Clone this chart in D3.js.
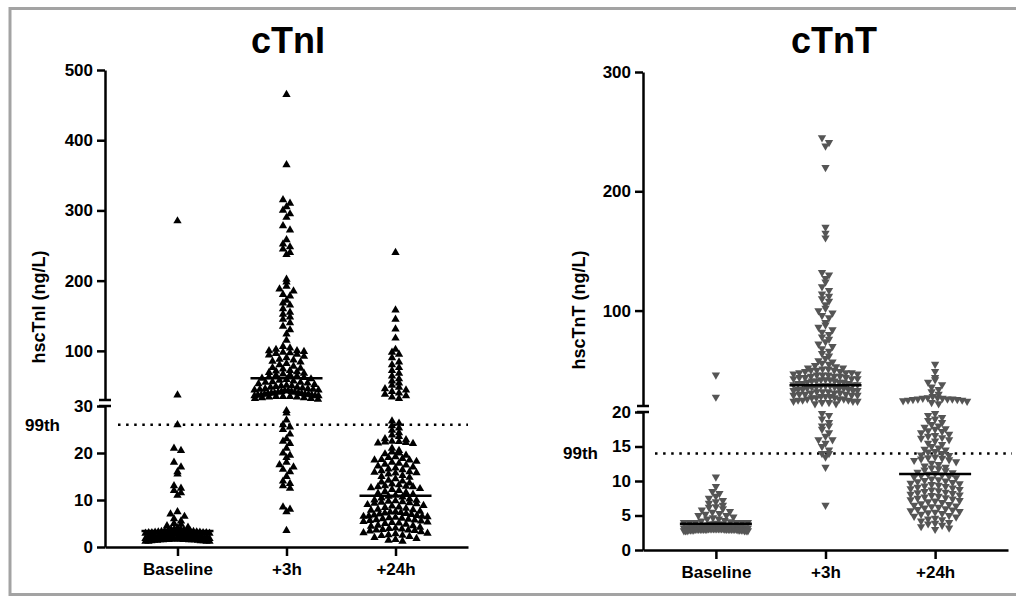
<!DOCTYPE html>
<html>
<head>
<meta charset="utf-8">
<script src="https://cdn.jsdelivr.net/npm/d3@7"></script>
<style>
  body { margin: 0; background: #fff; }
  text { font-family: "Liberation Sans", Arial, sans-serif; font-weight: bold; }
</style>
</head>
<body>
<div id="chart"></div>
<script>
// categories and values
var cats = ["Baseline", "+3h", "+24h"];

var ctniBase = [285, 37, 26, 21, 20.5, 18, 17, 16, 15.5, 13, 12.5, 12, 11.5, 11, 7.5, 7, 6.5, 6, 5.5, 5, 4.8, 4.5, 4.2, 4,
    3.8, 3.8, 3.7, 3.6, 3.5, 3.5, 3.4, 3.4, 3.3, 3.3, 3.2, 3.2, 3.1, 3.1, 3.0, 3.0, 3.0, 3.0, 2.9, 2.9, 2.8, 2.8, 2.8,
    2.7, 2.7, 2.7, 2.6, 2.6, 2.5, 2.5, 2.5, 2.5, 2.4, 2.4, 2.4, 2.3, 2.3, 2.3, 2.2, 2.2, 2.2, 2.1, 2.1, 2.1, 2.0, 2.0,
    2.0, 2.0, 2.0, 1.9, 1.9, 1.9, 1.9, 1.8, 1.8, 1.8, 1.8, 1.8, 1.7, 1.7, 1.7, 1.7, 1.6, 1.6, 1.6, 1.6, 1.5, 1.5, 1.5,
    1.5, 1.5, 1.4, 1.4, 1.4, 1.3, 1.3, 1.3, 1.2, 1.2, 1.2, 1.2];
var ctni3h = [465, 365, 315, 310, 305, 300, 295, 290, 278, 272, 258, 252, 248, 245, 240, 237, 202, 198, 192, 188, 185,
    180, 178, 172, 168, 165, 160, 155, 152, 148, 145, 140, 135, 130, 124, 115,
    106, 104, 102, 100, 100, 99, 98, 97, 96, 95, 94, 92, 90, 88, 87, 85, 84, 82, 80, 78, 76, 75, 74, 72, 71, 70, 69,
    68, 67, 66, 65, 64, 63, 62, 61, 60, 59, 58, 57, 56, 55, 55, 54, 53, 52, 51, 50, 50, 49, 48, 48, 47, 46, 46, 45,
    45, 44, 44, 43, 43, 42, 42, 41, 41, 40, 40, 40, 39, 39, 38, 38, 38, 37, 37, 37, 36, 36, 36, 35, 35, 35, 34, 34,
    33, 33, 32, 32, 31,
    29, 28.5, 27, 26, 25.5, 25, 24, 23, 22.5, 22, 21, 20, 19.5, 19, 18, 17.5, 17, 16.5, 16, 15, 14, 13.5, 13, 12.5,
    8.5, 8, 7.5, 3.5];
var ctni24h = [240, 158, 145, 131, 118, 102, 98, 95, 90, 84, 80, 76, 72, 68, 64, 60, 57, 54, 51, 48, 46, 44, 42,
    40, 38, 36, 34, 32,
    26.8, 26.3, 25.8, 25.3, 24.8, 24.3,
    23.8, 23.5, 23, 22.8, 22.5, 22.4, 22.3, 22.2, 22.1, 22,
    21, 20.5, 20.2, 20, 19.8, 19.5, 19.2, 19, 18.8, 18.6, 18.5, 18.5,
    18.2, 18, 17.8, 17.6, 17.4, 17.2, 17, 16.8, 16.6, 16.4, 16.2, 16, 15.9, 15.8, 15.7,
    15.5, 15.2, 15, 14.8, 14.5, 14.2, 14, 13.8, 13.6, 13.4, 13.2, 13, 12.9, 12.8, 12.8,
    12.6, 12.4, 12.2, 12, 11.8, 11.6, 11.4, 11.2, 11, 10.8, 10.6, 10.4, 10.2, 10, 9.9, 9.8, 9.7, 9.6, 9.5, 9.4,
    9.3, 9.2, 9, 8.8, 8.7, 8.5, 8.4, 8.2, 8, 7.9, 7.8, 7.6, 7.5, 7.4, 7.3, 7.2, 7.1, 7, 6.9, 6.8, 6.7, 6.6, 6.5, 6.5, 6.4,
    6.3, 6.2, 6.1, 6, 5.9, 5.8, 5.7, 5.6, 5.5, 5.4, 5.3, 5.2, 5.1, 5, 4.8, 4.6, 4.5, 4.4, 4.2, 4, 3.9, 3.8, 3.7, 3.6, 3.6,
    3.5, 3.4, 3.2, 3, 2.9, 2.8, 2.6, 2.5, 2.4, 2.2, 2, 1.8, 1.6, 1.4, 1.2];

var ctntBase = [46, 27.5, 10.6, 9.2, 8.5, 8.2, 7.8, 7.5, 7.2, 7, 6.8, 6.5, 6.3, 6.2, 6, 5.8, 5.6, 5.5, 5.3, 5.2, 5, 5,
    4.8, 4.7, 4.5, 4.5, 4.3, 4.2,
    4.1, 4.0, 4.0, 4.0, 4.0, 4.0, 4.0, 3.9, 3.8, 3.8, 3.8, 3.8, 3.8, 3.7, 3.6, 3.6, 3.6, 3.6, 3.6,
    3.5, 3.5, 3.5, 3.5, 3.5, 3.5, 3.5, 3.5, 3.4, 3.4, 3.4, 3.4, 3.4, 3.4, 3.3, 3.3, 3.3, 3.3, 3.3, 3.3, 3.3, 3.3,
    3.2, 3.2, 3.2, 3.2, 3.2, 3.2, 3.2, 3.2, 3.2, 3.2, 3.1, 3.1, 3.1, 3.1, 3.1, 3.1, 3.1, 3.1, 3.1, 3.1,
    3.0, 3.0, 3.0, 3.0, 3.0, 3.0, 3.0, 3.0, 3.0, 3.0, 3.0, 3.0, 3.0, 3.0, 3.0, 3.0,
    2.9, 2.9, 2.9, 2.9, 2.9, 2.9, 2.9, 2.9, 2.8, 2.8, 2.8, 2.8, 2.8, 2.8];
var ctnt3h = [245, 241, 238, 220, 170, 165, 161, 132, 130, 127, 124, 120, 117, 114, 112, 110, 108, 105, 102, 100, 98,
    96, 94, 90, 88, 86, 84, 82, 80, 78, 76, 74, 72, 70, 68, 66, 64, 62, 60, 58, 57, 56, 55, 54, 53,
    52, 52, 51, 51, 50, 50, 50, 49, 49, 48, 48, 48, 47, 47, 46, 46, 46, 45, 45, 45, 44, 44, 44, 43, 43, 43, 42, 42,
    42, 41, 41, 41, 40, 40, 40, 39, 39, 39, 38, 38, 38, 37, 37, 37, 36, 36, 36, 35, 35, 35, 34, 34, 34, 33, 33, 33,
    32, 32, 32, 31, 31, 31, 30, 30, 30, 29, 29, 29, 28, 28, 28, 27, 27, 27, 26, 26, 26, 25, 25, 25, 24, 24, 24, 23,
    23, 22, 22,
    19.8, 19.5, 19, 18.5, 18, 18, 17.5, 17, 16.5, 16, 16, 15.5, 15, 14.5, 14, 14, 13.5, 12, 6.5];
var ctnt24h = [55, 49, 44, 42, 40, 38, 36, 34, 32, 30, 28, 27, 27, 26.5, 26.5, 26, 26, 26, 25.5, 25.5, 25, 25, 24.5,
    24, 23, 22,
    19.8, 19.5, 19.2, 19, 18.8, 18.5, 18.2, 18, 17.8, 17.6, 17.5, 17.3, 17.2, 17, 16.8, 16.6, 16.5, 16.3, 16.2, 16,
    15.8, 15.5, 15.3, 15, 14.8, 14.6, 14.5, 14.3, 14.2, 14, 13.8, 13.7, 13.5, 13.4, 13.3, 13.2, 13.1, 13,
    12.8, 12.6, 12.4, 12.2, 12, 11.9, 11.8, 11.6, 11.5, 11.3, 11.2, 11.1, 11, 10.9, 10.8, 10.7, 10.6, 10.5,
    10.3, 10.2, 10.1, 10, 9.9, 9.8, 9.7, 9.6, 9.5, 9.4, 9.3, 9.2, 9.1, 9, 8.9, 8.8, 8.7, 8.6, 8.5, 8.4, 8.3, 8.2,
    8.1, 8, 7.9, 7.8, 7.7, 7.6, 7.5, 7.4, 7.3, 7.2, 7.1, 7, 6.9,
    6.7, 6.6, 6.5, 6.4, 6.3, 6.2, 6.1, 6, 5.9, 5.8, 5.7, 5.6, 5.5, 5.4, 5.3, 5.2, 5, 4.9, 4.8, 4.6, 4.5, 4.4, 4.2,
    4, 3.9, 3.8, 3.6, 3.4, 3.2, 3];

var ctniMedians = [3.4, 61, 10.9];
var ctntMedians = [3.8, 37.5, 11];

var ctniTicksLow = [0, 10, 20, 30];
var ctniTicksHigh = [100, 200, 300, 400, 500];
var ctntTicksLow = [0, 5, 10, 15, 20];
var ctntTicksHigh = [100, 200, 300];

var ctniRef = 26;
var ctntRef = 14;

var width = 1016, height = 597;

var svg = d3.select("#chart")
    .append("svg")
    .attr("width", width)
    .attr("height", height);

// grey frame round the figure
svg.append("rect")
    .attr("x", 10)
    .attr("y", 8.5)
    .attr("width", 1020)
    .attr("height", 586)
    .attr("fill", "none")
    .attr("stroke", "#a3a3a3")
    .attr("stroke-width", 3);

/*
    Prism-like scatter layout: points that fall in the same pixel row
    are set side by side, squeezed when the row gets too wide
*/
function layoutRows(values, yf, binH, step, maxW) {
    var pts = values.map(v => ({v: v, py: yf(v)}));
    var rows = d3.group(pts, d => Math.floor(d.py / binH));
    rows.forEach(arr => {
        var n = arr.length;
        var s = n > 1 ? Math.min(step, maxW / (n - 1)) : 0;
        arr.sort((a, b) => b.v - a.v);
        var offs = d3.range(n).map(i => (i - (n - 1) / 2) * s)
            .sort((a, b) => Math.abs(a) - Math.abs(b));
        arr.forEach((d, i) => d.dx = offs[i]);
    });
    return pts;
}

function drawPanel(p) {
    var g = svg.append("g");

    var yLow = d3.scaleLinear().domain([0, p.brk]).range([p.yBottom, p.yLowTop]);
    var yHigh = d3.scaleLinear().domain([p.brk, p.max]).range([p.yHighBottom, p.yTop]);
    var y = v => v <= p.brk ? yLow(v) : yHigh(v);

    var x = d3.scalePoint().domain(cats).range([p.xLeft, p.xRight]).padding(0.665);

    // title
    g.append("text")
        .attr("x", p.titleX)
        .attr("y", 53)
        .attr("text-anchor", "middle")
        .attr("font-size", "36px")
        .text(p.title);

    // y label
    g.append("text")
        .attr("transform", "translate(" + p.labelX + "," + p.labelY + ") rotate(-90)")
        .attr("text-anchor", "middle")
        .attr("font-size", "18px")
        .text(p.ylabel);

    // dotted 99th percentile line
    g.append("line")
        .attr("x1", p.refX1)
        .attr("x2", p.refX2)
        .attr("y1", y(p.ref))
        .attr("y2", y(p.ref))
        .attr("stroke", "#000")
        .attr("stroke-width", 2.5)
        .attr("stroke-dasharray", "2.5,5.6");

    g.append("text")
        .attr("x", p.xLeft - 45)
        .attr("y", y(p.ref) + 6)
        .attr("text-anchor", "end")
        .attr("font-size", "17px")
        .text("99th");

    // points
    var sym = d3.symbol().type(d3.symbolTriangle).size(30)();
    p.series.forEach((vals, i) => {
        var pts = layoutRows(vals, y, 5.5, 7, 64);
        g.append("g").selectAll("path")
            .data(pts)
            .enter()
            .append("path")
            .attr("d", sym)
            .attr("fill", p.color)
            .attr("transform", d => "translate(" + (x(cats[i]) + d.dx) + "," + d.py + ")" + (p.down ? " rotate(180)" : ""));
    });

    // medians
    g.selectAll(".median")
        .data(p.medians)
        .enter()
        .append("line")
        .attr("class", "median")
        .attr("x1", (d, i) => x(cats[i]) - 36)
        .attr("x2", (d, i) => x(cats[i]) + 36)
        .attr("y1", d => y(d))
        .attr("y2", d => y(d))
        .attr("stroke", "#000")
        .attr("stroke-width", 2.5);

    // axes
    function styleAxis(sel) {
        sel.selectAll("path, line").attr("stroke", "#000").attr("stroke-width", 2.5);
        sel.selectAll("text").attr("font-size", "17px").attr("fill", "#000")
            .attr("font-family", "'Liberation Sans', Arial, sans-serif").attr("font-weight", "bold");
    }

    g.append("g")
        .attr("transform", "translate(" + p.xLeft + ",0)")
        .call(d3.axisLeft(yLow).tickValues(p.ticksLow).tickSize(8).tickSizeOuter(0).tickPadding(4))
        .call(styleAxis);
    g.append("g")
        .attr("transform", "translate(" + p.xLeft + ",0)")
        .call(d3.axisLeft(yHigh).tickValues(p.ticksHigh).tickSize(8).tickSizeOuter(0).tickPadding(4))
        .call(styleAxis);

    // break marks
    [p.yHighBottom, p.yLowTop].forEach(yy => {
        g.append("line")
            .attr("x1", p.xLeft - 6)
            .attr("x2", p.xLeft + 6)
            .attr("y1", yy)
            .attr("y2", yy)
            .attr("stroke", "#000")
            .attr("stroke-width", 2.5);
    });

    g.append("g")
        .attr("transform", "translate(0," + p.yBottom + ")")
        .call(d3.axisBottom(x).tickSize(9).tickSizeOuter(0).tickPadding(7))
        .call(styleAxis);
}

drawPanel({
    title: "cTnI", titleX: 288,
    ylabel: "hscTnI (ng/L)", labelX: 45, labelY: 307,
    series: [ctniBase, ctni3h, ctni24h], medians: ctniMedians,
    ticksLow: ctniTicksLow, ticksHigh: ctniTicksHigh,
    brk: 30, max: 500, ref: ctniRef,
    yBottom: 547, yLowTop: 406, yHighBottom: 400, yTop: 70,
    xLeft: 105, xRight: 468, refX1: 118, refX2: 468,
    color: "#000", down: false
});

drawPanel({
    title: "cTnT", titleX: 834,
    ylabel: "hscTnT (ng/L)", labelX: 585, labelY: 310,
    series: [ctntBase, ctnt3h, ctnt24h], medians: ctntMedians,
    ticksLow: ctntTicksLow, ticksHigh: ctntTicksHigh,
    brk: 20, max: 300, ref: ctntRef,
    yBottom: 550, yLowTop: 412, yHighBottom: 406, yTop: 72,
    xLeft: 643, xRight: 1008, refX1: 655, refX2: 1012,
    color: "#555", down: true
});
</script>
</body>
</html>
